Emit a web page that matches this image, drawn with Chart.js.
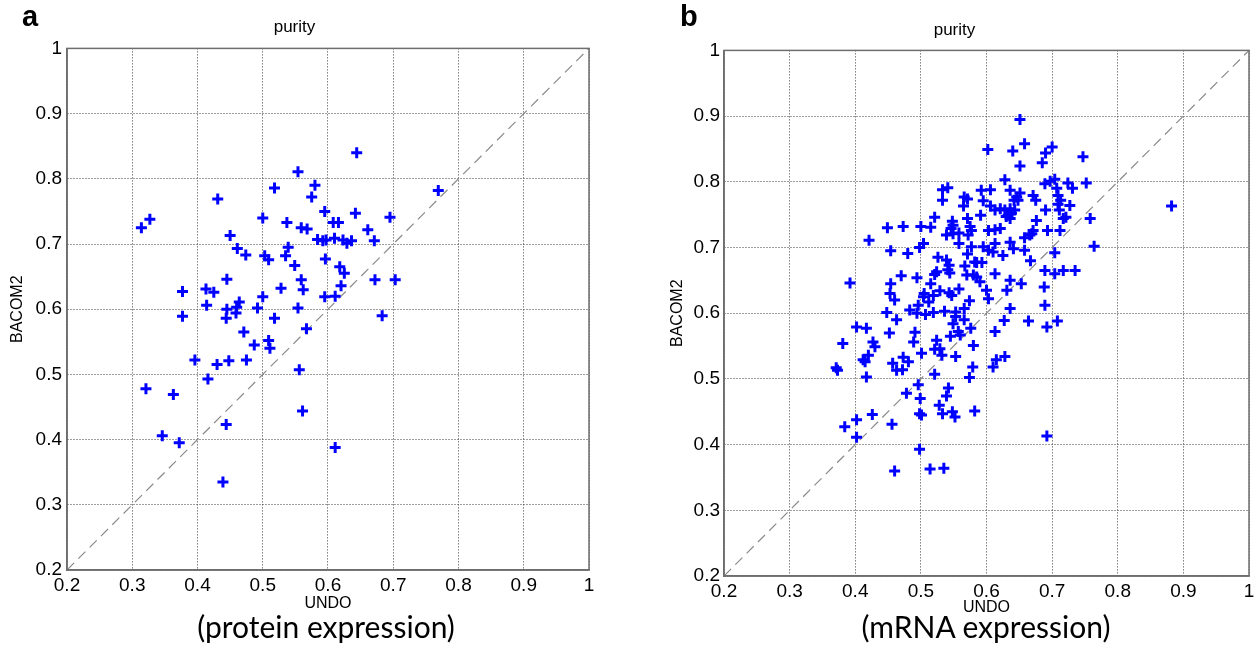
<!DOCTYPE html>
<html>
<head>
<meta charset="utf-8">
<script src="https://cdn.jsdelivr.net/npm/chart.js@4.4.1/dist/chart.umd.min.js"></script>
<style>
  body { margin: 0; width: 1260px; height: 646px; background: #fff; position: relative; overflow: hidden; }
  .panel { position: absolute; top: 0; width: 630px; height: 646px; }
  .tag { position: absolute; top: 0; font: bold 29px "Liberation Sans", Arial, sans-serif; }
  .sub { position: absolute; top: 608px; font: 30px Lato, "Open Sans", sans-serif; transform: translateX(-50%); white-space: nowrap; }
</style>
</head>
<body>
<div class="panel" style="left:0"><canvas id="protChart" width="630" height="646"></canvas></div>
<div class="panel" style="left:630px"><canvas id="mrnaChart" width="630" height="646"></canvas></div>
<div class="tag" style="left:22px">a</div>
<div class="tag" style="left:680px">b</div>
<div class="sub" style="left:326px">(protein expression)</div>
<div class="sub" style="left:986px">(mRNA expression)</div>
<script>
// axis ticks
const tickVals = [0.2, 0.3, 0.4, 0.5, 0.6, 0.7, 0.8, 0.9, 1];
const tickLabels = ['0.2', '0.3', '0.4', '0.5', '0.6', '0.7', '0.8', '0.9', '1'];
// y = x reference line
const diagX = [0.2, 1];
const diagY = [0.2, 1];

// a: protein expression
const protUndo = [0.644, 0.554, 0.518, 0.580, 0.575, 0.431, 0.314, 0.327, 0.595, 0.642,
  0.695, 0.500, 0.537, 0.608, 0.616, 0.559, 0.568, 0.661, 0.450, 0.671,
  0.584, 0.592, 0.597, 0.610, 0.623, 0.629, 0.636, 0.539, 0.461, 0.474,
  0.503, 0.509, 0.535, 0.596, 0.549, 0.618, 0.625, 0.445, 0.559, 0.562,
  0.672, 0.703, 0.620, 0.528, 0.377, 0.413, 0.425, 0.595, 0.611, 0.500,
  0.414, 0.464, 0.460, 0.445, 0.459, 0.492, 0.554, 0.377, 0.444, 0.518,
  0.683, 0.567, 0.471, 0.487, 0.509, 0.511, 0.396, 0.430, 0.448, 0.475,
  0.556, 0.416, 0.321, 0.363, 0.561, 0.444, 0.346, 0.372, 0.611, 0.439, 0.769];
const protBacom = [0.840, 0.811, 0.786, 0.790, 0.772, 0.769, 0.725, 0.738, 0.750, 0.747,
  0.741, 0.740, 0.733, 0.733, 0.733, 0.725, 0.723, 0.722, 0.713, 0.705,
  0.707, 0.705, 0.706, 0.709, 0.706, 0.701, 0.705, 0.695, 0.693, 0.683,
  0.682, 0.676, 0.682, 0.677, 0.667, 0.665, 0.655, 0.646, 0.645, 0.630,
  0.645, 0.645, 0.636, 0.632, 0.627, 0.631, 0.626, 0.619, 0.620, 0.619,
  0.606, 0.611, 0.603, 0.600, 0.594, 0.602, 0.602, 0.589, 0.586, 0.586,
  0.590, 0.570, 0.565, 0.545, 0.552, 0.540, 0.522, 0.515, 0.521, 0.522,
  0.507, 0.493, 0.478, 0.469, 0.444, 0.423, 0.406, 0.395, 0.388, 0.335, 0.782];

// b: mRNA expression
const mrnaUndo = [0.533, 0.541, 0.533, 0.566, 0.571, 0.565, 0.521, 0.548, 0.549, 0.546,
  0.571, 0.575, 0.577, 0.572, 0.539, 0.549, 0.558, 0.558, 0.577, 0.571,
  0.582, 0.449, 0.473, 0.500, 0.515, 0.421, 0.454, 0.480, 0.498, 0.504,
  0.526, 0.539, 0.543, 0.541, 0.544, 0.567, 0.570, 0.580, 0.521, 0.524,
  0.470, 0.494, 0.454, 0.392, 0.515, 0.558, 0.529, 0.505, 0.504, 0.543,
  0.547, 0.453, 0.460, 0.512, 0.496, 0.519, 0.574, 0.566, 0.483, 0.448,
  0.494, 0.507, 0.519, 0.536, 0.553, 0.553, 0.549, 0.566, 0.463, 0.402,
  0.417, 0.452, 0.491, 0.489, 0.557, 0.560, 0.576, 0.545, 0.524, 0.381,
  0.427, 0.430, 0.521, 0.529, 0.532, 0.501, 0.553, 0.580, 0.420, 0.412,
  0.415, 0.473, 0.481, 0.457, 0.463, 0.472, 0.371, 0.373, 0.417, 0.521,
  0.579, 0.574, 0.496, 0.478, 0.499, 0.542, 0.539, 0.528, 0.533, 0.498,
  0.501, 0.548, 0.552, 0.582, 0.426, 0.402, 0.384, 0.456, 0.402, 0.498,
  0.460, 0.514, 0.535, 0.651, 0.658, 0.602, 0.640, 0.690, 0.700, 0.685,
  0.651, 0.747, 0.628, 0.689, 0.697, 0.704, 0.724, 0.731, 0.752, 0.592,
  0.606, 0.636, 0.651, 0.646, 0.642, 0.648, 0.671, 0.675, 0.707, 0.709,
  0.713, 0.595, 0.606, 0.727, 0.709, 0.711, 0.690, 0.613, 0.621, 0.628,
  0.636, 0.633, 0.638, 0.630, 0.636, 0.643, 0.591, 0.676, 0.717, 0.721,
  0.758, 0.603, 0.613, 0.621, 0.671, 0.666, 0.658, 0.693, 0.712, 0.595,
  0.603, 0.610, 0.613, 0.625, 0.636, 0.641, 0.658, 0.704, 0.764, 0.667,
  0.585, 0.590, 0.585, 0.593, 0.613, 0.636, 0.689, 0.704, 0.717, 0.735,
  0.653, 0.688, 0.631, 0.600, 0.882, 0.689, 0.603, 0.636, 0.664, 0.627,
  0.692, 0.708, 0.613, 0.628, 0.615, 0.610, 0.692, 0.669];
const mrnaBacom = [0.788, 0.791, 0.772, 0.777, 0.774, 0.763, 0.746, 0.740, 0.734, 0.729,
  0.744, 0.732, 0.726, 0.719, 0.719, 0.721, 0.722, 0.706, 0.701, 0.690,
  0.678, 0.730, 0.732, 0.732, 0.731, 0.711, 0.695, 0.691, 0.700, 0.706,
  0.685, 0.681, 0.673, 0.666, 0.661, 0.672, 0.658, 0.658, 0.659, 0.663,
  0.657, 0.654, 0.645, 0.646, 0.645, 0.637, 0.634, 0.630, 0.625, 0.631,
  0.627, 0.630, 0.620, 0.617, 0.612, 0.627, 0.619, 0.607, 0.605, 0.601,
  0.600, 0.598, 0.601, 0.603, 0.602, 0.595, 0.584, 0.590, 0.590, 0.579,
  0.577, 0.570, 0.571, 0.556, 0.572, 0.567, 0.577, 0.565, 0.559, 0.554,
  0.556, 0.549, 0.545, 0.546, 0.536, 0.539, 0.534, 0.551, 0.536, 0.529,
  0.526, 0.533, 0.526, 0.524, 0.513, 0.514, 0.517, 0.513, 0.503, 0.507,
  0.518, 0.502, 0.491, 0.478, 0.470, 0.486, 0.474, 0.460, 0.447, 0.447,
  0.445, 0.450, 0.442, 0.451, 0.446, 0.438, 0.427, 0.431, 0.411, 0.393,
  0.360, 0.363, 0.364, 0.895, 0.858, 0.849, 0.847, 0.844, 0.853, 0.829,
  0.824, 0.838, 0.803, 0.797, 0.801, 0.804, 0.798, 0.790, 0.798, 0.787,
  0.788, 0.787, 0.783, 0.777, 0.772, 0.772, 0.779, 0.772, 0.790, 0.779,
  0.772, 0.771, 0.763, 0.764, 0.766, 0.757, 0.757, 0.757, 0.759, 0.757,
  0.759, 0.749, 0.752, 0.747, 0.744, 0.757, 0.749, 0.741, 0.744, 0.746,
  0.744, 0.726, 0.727, 0.729, 0.726, 0.719, 0.715, 0.726, 0.726, 0.701,
  0.696, 0.693, 0.706, 0.688, 0.708, 0.698, 0.696, 0.692, 0.702, 0.680,
  0.655, 0.648, 0.677, 0.677, 0.660, 0.650, 0.665, 0.660, 0.665, 0.665,
  0.645, 0.640, 0.635, 0.635, 0.763, 0.612, 0.622, 0.607, 0.588, 0.589,
  0.579, 0.588, 0.572, 0.534, 0.529, 0.518, 0.413, 0.721];

const txtFont = '"Liberation Sans", Arial, sans-serif';

// full frame around the plot area, like a matlab axes box
const boxPlugin = {
  id: 'axesBox',
  afterDraw(chart) {
    const a = chart.chartArea;
    const ctx = chart.ctx;
    ctx.save();
    ctx.strokeStyle = '#6e6e6e';
    ctx.lineWidth = 1.5;
    ctx.strokeRect(a.left, a.top, a.right - a.left, a.bottom - a.top);
    ctx.restore();
  }
};

function axis(title, titlePad, tickPad, fitSize, isX) {
  return {
    type: 'linear',
    min: 0.2,
    max: 1,
    afterBuildTicks: s => { s.ticks = tickVals.map(v => ({ value: v })); },
    afterFit: s => { if (isX) s.height = fitSize; else s.width = fitSize; },
    ticks: {
      callback: v => tickLabels[tickVals.indexOf(v)],
      font: { family: txtFont, size: 19 },
      color: '#000',
      padding: tickPad,
      maxRotation: 0,
      autoSkip: false
    },
    grid: { color: '#3c3c3c', lineWidth: 1, drawTicks: false },
    border: { display: true, color: '#6e6e6e', width: 1.5, dash: [1, 2] },
    title: {
      display: true,
      text: title,
      color: '#000',
      font: { family: txtFont, size: 16 },
      padding: titlePad
    }
  };
}

function makeChart(id, xs, ys, lay) {
  const pts = xs.map((x, i) => ({ x: x, y: ys[i] }));
  const diag = diagX.map((x, i) => ({ x: x, y: diagY[i] }));
  return new Chart(document.getElementById(id), {
    type: 'scatter',
    data: {
      datasets: [{
        data: pts,
        pointStyle: 'cross',
        pointRadius: 5.5,
        pointBorderWidth: 3,
        borderColor: '#0000ff',
        backgroundColor: '#0000ff',
        order: 0
      }, {
        type: 'line',
        data: diag,
        borderColor: '#8a8a8a',
        borderWidth: 1.2,
        borderDash: [10, 6],
        pointRadius: 0,
        fill: false,
        order: 1
      }]
    },
    options: {
      responsive: false,
      animation: false,
      devicePixelRatio: 1,
      layout: { padding: { left: lay.left, right: lay.right, top: 0, bottom: 0 } },
      plugins: {
        legend: { display: false },
        tooltip: { enabled: false },
        title: {
          display: true,
          text: 'purity',
          color: '#000',
          font: { family: txtFont, size: 17, weight: 'normal' },
          padding: { top: lay.tTop, bottom: lay.tBottom }
        }
      },
      scales: {
        x: axis('UNDO', { top: 0, bottom: lay.xTitlePad }, 4, lay.xH, true),
        y: axis('BACOM2', { top: lay.yTitlePad, bottom: 0 }, lay.yTickPad, lay.yW, false)
      }
    },
    plugins: [boxPlugin]
  });
}

makeChart('protChart', protUndo, protBacom,
  { left: 0, right: 41, yW: 67, xH: 76, tTop: 17, tBottom: 11, xTitlePad: 33, yTitlePad: 8, yTickPad: 5 });
makeChart('mrnaChart', mrnaUndo, mrnaBacom,
  { left: 30, right: 11, yW: 64, xH: 70, tTop: 20, tBottom: 10, xTitlePad: 29, yTitlePad: 8, yTickPad: 4 });
</script>
</body>
</html>
